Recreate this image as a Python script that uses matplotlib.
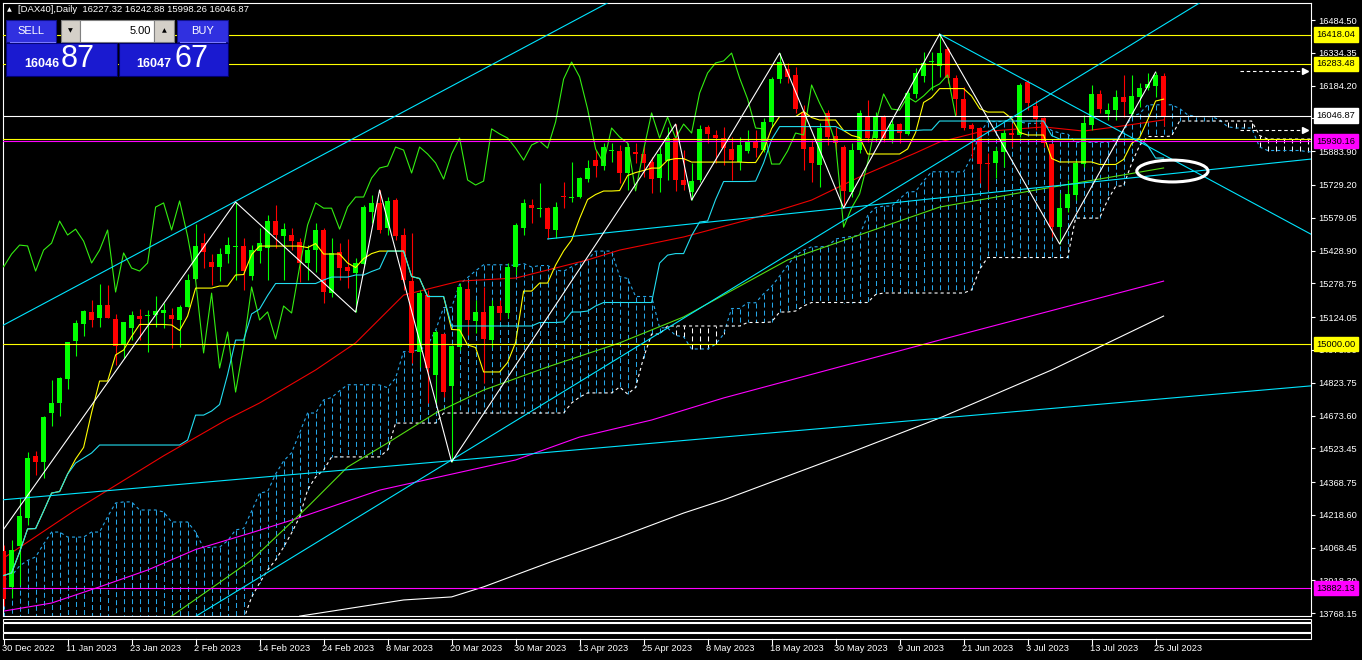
import numpy as np
import pandas as pd
import matplotlib
matplotlib.use("Agg")
import matplotlib.pyplot as plt
from matplotlib.patches import Rectangle, Ellipse
from matplotlib.lines import Line2D
from matplotlib.transforms import blended_transform_factory as blend

plt.rcParams["font.family"] = ["Liberation Sans", "DejaVu Sans"]
plt.rcParams["lines.scale_dashes"] = False

# daily bars of [DAX40], 30 Dec 2022 .. 26 Jul 2023
opens = [14053, 13888, 14076, 14204, 14488, 14461, 14685, 14731, 14841, 15015,
         15093, 15148, 15120, 15180, 15115, 15001, 15074, 15129, 15129, 15134,
         15143, 15134, 15111, 15170, 15299, 15463, 15377, 15354, 15413, 15445,
         15450, 15312, 15427, 15441, 15564, 15495, 15500, 15468, 15372, 15431,
         15523, 15234, 15422, 15354, 15326, 15367, 15605, 15647, 15532, 15660,
         15500, 15289, 14964, 15225, 14859, 15047, 14809, 14987, 15253, 15106,
         15148, 15019, 15175, 15143, 15354, 15532, 15637, 15619, 15623, 15523,
         15679, 15670, 15674, 15756, 15843, 15816, 15887, 15885, 15784, 15880,
         15871, 15834, 15761, 15839, 15944, 15752, 15697, 15752, 15995, 15958,
         15944, 15894, 15834, 15885, 15930, 15889, 16018, 16214, 16260, 16233,
         16063, 15903, 15821, 16059, 15954, 15903, 15697, 15889, 16045, 15944,
         16045, 15935, 16008, 15963, 16146, 16228, 16292, 16274, 16352, 16219,
         16123, 16004, 15990, 15830, 15830, 15880, 15967, 15958, 16201, 16091,
         16036, 15917, 15536, 15624, 15683, 15825, 16004, 16146, 16054, 16072,
         16132, 16054, 16132, 16173, 16182, 16227.32]
highs = [14081, 14104, 14296, 14508, 14511, 14671, 14836, 14850, 15010, 15111,
         15157, 15203, 15276, 15271, 15138, 15102, 15152, 15161, 15157, 15221,
         15189, 15166, 15180, 15321, 15550, 15509, 15413, 15441, 15491, 15651,
         15486, 15454, 15532, 15592, 15637, 15555, 15532, 15486, 15454, 15555,
         15532, 15486, 15463, 15482, 15395, 15637, 15683, 15706, 15674, 15670,
         15532, 15509, 15248, 15248, 15065, 15051, 14996, 15280, 15285, 15203,
         15262, 15203, 15203, 15372, 15555, 15665, 15665, 15738, 15628, 15651,
         15743, 15834, 15766, 15843, 15889, 15921, 15921, 15912, 15921, 15921,
         15912, 15857, 15903, 15994, 16008, 15889, 15830, 16004, 16004, 15981,
         15995, 15949, 15949, 15981, 15981, 16036, 16224, 16333, 16288, 16269,
         16095, 15935, 16013, 16072, 15995, 15912, 15921, 16072, 16118, 16063,
         16050, 16027, 16013, 16164, 16265, 16338, 16338, 16420, 16361, 16233,
         16178, 16013, 15995, 15876, 15903, 15981, 16013, 16196, 16210, 16118,
         16040, 15921, 15692, 15752, 15843, 16050, 16187, 16164, 16104, 16164,
         16233, 16233, 16196, 16242, 16246, 16242.88]
lows = [13801, 13838, 13898, 14172, 14401, 14387, 14626, 14671, 14795, 14946,
        15038, 15079, 15079, 15120, 14905, 14937, 15019, 15019, 14964, 15079,
        15074, 14983, 14987, 15170, 15299, 15349, 15271, 15289, 15372, 15294,
        15248, 15294, 15372, 15294, 15441, 15294, 15431, 15285, 15294, 15331,
        15189, 15216, 15294, 15257, 15147, 15363, 15555, 15509, 15500, 15477,
        15248, 14914, 14896, 14731, 14731, 14758, 14461, 14973, 15042, 15051,
        14822, 14987, 15111, 15120, 15317, 15500, 15555, 15582, 15482, 15486,
        15624, 15651, 15670, 15743, 15766, 15798, 15834, 15738, 15706, 15830,
        15766, 15692, 15697, 15752, 15702, 15706, 15660, 15743, 15921, 15830,
        15821, 15752, 15798, 15876, 15857, 15880, 15995, 16196, 16196, 16059,
        15798, 15743, 15720, 15912, 15889, 15624, 15674, 15876, 15926, 15926,
        15926, 15921, 15921, 15958, 16127, 16201, 16164, 16224, 16196, 16050,
        15981, 15853, 15738, 15706, 15761, 15811, 15903, 15949, 16072, 15981,
        15903, 15491, 15459, 15605, 15660, 15811, 15981, 16059, 16027, 16027,
        16040, 16050, 16086, 16164, 16132, 15998.26]
closes = [13833, 14058, 14213, 14480, 14461, 14667, 14731, 14845, 15010, 15097,
          15152, 15111, 15180, 15120, 14992, 15102, 15134, 15115, 15134, 15152,
          15157, 15115, 15170, 15294, 15450, 15422, 15354, 15413, 15454, 15450,
          15335, 15431, 15463, 15564, 15500, 15527, 15472, 15372, 15431, 15523,
          15239, 15418, 15349, 15335, 15372, 15628, 15647, 15523, 15656, 15495,
          15294, 14960, 15234, 14891, 15056, 14781, 14992, 15262, 15111, 15148,
          15024, 15175, 15143, 15354, 15546, 15647, 15623, 15623, 15527, 15628,
          15674, 15674, 15761, 15807, 15816, 15903, 15889, 15784, 15903, 15871,
          15830, 15756, 15871, 15944, 15752, 15729, 15747, 15986, 15963, 15944,
          15898, 15843, 15912, 15930, 15898, 16018, 16214, 16292, 16224, 16077,
          15894, 15830, 15990, 15949, 15921, 15702, 15889, 16059, 15944, 16040,
          15944, 16008, 15967, 16150, 16242, 16288, 16297, 16333, 16219, 16123,
          15990, 15986, 15825, 15825, 15885, 15967, 15958, 16187, 16104, 16031,
          15921, 15536, 15624, 15688, 15830, 16013, 16146, 16077, 16072, 16132,
          16109, 16137, 16173, 16192, 16233, 16046.87]

date_labels = ["30 Dec 2022", "11 Jan 2023", "23 Jan 2023", "2 Feb 2023", "14 Feb 2023",
               "24 Feb 2023", "8 Mar 2023", "20 Mar 2023", "30 Mar 2023", "13 Apr 2023",
               "25 Apr 2023", "8 May 2023", "18 May 2023", "30 May 2023", "9 Jun 2023",
               "21 Jun 2023", "3 Jul 2023", "13 Jul 2023", "25 Jul 2023"]
price_ticks = [16484.50, 16334.35, 16184.20, 16034.05, 15883.90, 15729.20, 15579.05,
               15428.90, 15278.75, 15124.05, 14973.90, 14823.75, 14673.60, 14523.45,
               14368.75, 14218.60, 14068.45, 13918.30, 13768.15]

# moving averages (bar index, value)
red_ma_bars = [0, 9, 20, 28, 32, 39, 44, 50, 57, 64, 73, 77, 85, 93, 101, 107, 114, 117, 122, 130, 135, 139, 145]
red_ma_vals = [14021, 14241, 14489, 14657, 14731, 14882, 15006, 15225, 15289, 15303, 15386, 15431,
               15491, 15569, 15660, 15766, 15876, 15926, 15972, 15995, 15976, 15995, 16027]
green_ma_bars = [21, 31, 38, 43, 48, 54, 60, 68, 77, 85, 98, 117, 129, 145]
green_ma_vals = [13755, 14012, 14255, 14438, 14548, 14685, 14790, 14896, 15006, 15125, 15386, 15628, 15706, 15807]
magenta_ma_bars = [0, 6, 12, 18, 24, 31, 37, 47, 64, 72, 81, 90, 117, 145]
magenta_ma_vals = [13778, 13815, 13889, 13966, 14060, 14137, 14206, 14332, 14470, 14575, 14653, 14754, 15019, 15289]
white_ma_bars = [37, 50, 56, 60, 68, 77, 85, 90, 106, 117, 131, 145]
white_ma_vals = [13755, 13829, 13843, 13889, 13998, 14117, 14227, 14287, 14506, 14662, 14882, 15129]

# Ichimoku cloud where it needs history from before the first bar
span_a_start = [13920, 13940, 13985, 14010, 14026, 14085, 14140, 14140, 14117, 14117,
                14117, 14140, 14140, 14210, 14273, 14278, 14278, 14241, 14241, 14241,
                14232, 14186, 14186, 14186, 14140, 14067, 14071, 14071, 14100, 14150]
span_b_start = ([np.nan] * 30 +
                [13740, 13842, 13907, 13966, 14012, 14071, 14136, 14209, 14333, 14392, 14424] +
                [14484] * 7 + [14516] + [14639] * 6 + [14685] * 16 +
                [14731, 14758] + [14777] * 4 + [14804])

zigzag_bars = [-7, 29, 44, 47, 56, 84, 86, 97, 105, 117, 132, 144]
zigzag_prices = [13791, 15651, 15147, 15706, 14461, 16008, 15660, 16333, 15624, 16420, 15459, 16246]

yellow_levels = [16418.04, 16283.48, 15940.0, 15000.00]
magenta_levels = [15930.16, 13882.13]
bid = 16046.87

GREEN = "#00ff00"
RED = "#ff0000"
CYAN = "#00e5ff"
CLOUD = "#26a6e8"

W, H = 1362, 660
fig = plt.figure(figsize=(W / 100, H / 100), dpi=100, facecolor="black")


def fx(x):
    return x / W


def fy(y):
    return 1 - y / H


X0, X1, Y0, Y1 = 2.7, 1311, 3, 616
ax = fig.add_axes([fx(X0), fy(Y1), fx(X1 - X0), (Y1 - Y0) / H])
ax.set_facecolor("black")
ax.set_xlim((X0 - 3.6) / 8, (X1 - 3.6) / 8)
ybot, ytop = 13755.6, 16562.4
ax.set_ylim(ybot, ytop)

df = pd.DataFrame({"o": opens, "h": highs, "l": lows, "c": closes})
n = len(df)
idx = np.arange(n)

# Ichimoku
tenkan = (df.h.rolling(9, min_periods=1).max() + df.l.rolling(9, min_periods=1).min()) / 2
kijun = (df.h.rolling(26, min_periods=1).max() + df.l.rolling(26, min_periods=1).min()) / 2
span_b_calc = (df.h.rolling(52).max() + df.l.rolling(52).min()) / 2
m = n + 26
span_a = np.full(m, np.nan)
span_b = np.full(m, np.nan)
span_a[26:] = ((tenkan + kijun) / 2).values
span_a[:len(span_a_start)] = span_a_start
span_b[26:] = span_b_calc.values
span_b[:len(span_b_start)] = span_b_start
jj = np.arange(m)
b_fill = np.where(np.isnan(span_b), ybot - 80, span_b)
hatch_cols = np.where(span_a >= b_fill, CLOUD, "white")
ax.vlines(jj, span_a, b_fill, colors=list(hatch_cols), linestyles=(0, (3.6, 2.2)), lw=0.75, zorder=1)
ax.plot(jj, span_a, color=CLOUD, lw=0.8, ls=(0, (2.2, 2.2)), zorder=2)
ax.plot(jj, span_b, color="white", lw=0.8, ls=(0, (2.2, 2.2)), zorder=2)

# moving averages
ax.plot(white_ma_bars, white_ma_vals, color="white", lw=0.8, zorder=2)
ax.plot(magenta_ma_bars, magenta_ma_vals, color="#ff00ff", lw=0.8, zorder=2)
ax.plot(green_ma_bars, green_ma_vals, color="#55dd11", lw=0.8, zorder=2)
ax.plot(red_ma_bars, red_ma_vals, color="#ee0000", lw=0.8, zorder=2)

# candles
o, h, l, c = df.o.values, df.h.values, df.l.values, df.c.values
up = c >= o
cols = np.where(up, GREEN, RED)
ax.vlines(idx, l, h, colors=list(cols), lw=0.8, zorder=3)
body = np.maximum(np.abs(c - o), 4.6)
ax.bar(idx, body, bottom=np.minimum(o, c), width=0.62, color=list(cols), lw=0, zorder=3)

# Ichimoku lines
ax.plot(idx - 26, c, color="#33ee11", lw=0.8, zorder=4)
ax.plot(idx, tenkan, color="#ffff00", lw=0.8, zorder=4)
ax.plot(idx, kijun, color="#22ddf0", lw=0.8, zorder=4)

# objects
for v in yellow_levels:
    ax.axhline(v, color="#ffff00", lw=0.8, zorder=5)
for v in magenta_levels:
    ax.axhline(v, color="#ff00ff", lw=0.8, zorder=5)
ax.axhline(bid, color="white", lw=0.8, zorder=5)

ax.axline((0, 15088), (75, 16553), color=CYAN, lw=0.8, zorder=5)
ax.axline((56, 14470), (90, 15231), color=CYAN, lw=0.8, zorder=5)
ax.axline((0, 14288), (163, 14808), color=CYAN, lw=0.8, zorder=5)
ax.plot([68, 170], [15482, 15873], color=CYAN, lw=0.8, zorder=5)
ax.plot([117, 170], [16420, 15374], color=CYAN, lw=0.8, zorder=5)
ax.plot(zigzag_bars, zigzag_prices, color="white", lw=0.8, zorder=5)
ax.add_patch(Ellipse((146.1, 15793), 8.9, 100, fill=False, ec="white", lw=2.2, zorder=6))
for lvl in (16250, 15981):
    ax.plot([154.5, 162.6], [lvl, lvl], color="white", lw=0.8, ls=(0, (2.5, 2.0)), zorder=6)
    ax.plot([162.7], [lvl], marker=">", color="white", ms=4, zorder=6, clip_on=False)

# axes styling / price scale
for s in ax.spines.values():
    s.set_color("white")
    s.set_linewidth(0.8)
ax.yaxis.tick_right()
ax.set_yticks(price_ticks)
ax.set_yticklabels([f"{v:.2f}" for v in price_ticks])
ax.tick_params(axis="y", colors="white", labelcolor="white", length=3, width=0.8, pad=2, labelsize=6.7)
ax.tick_params(axis="x", bottom=False, labelbottom=False)

tr = blend(fig.transFigure, ax.transData)
boxes = [(16418.04, "#ffff00"), (16283.48, "#ffff00"), (bid, "white"),
         (15930.16, "#ff00ff"), (15000.00, "#ffff00"), (13882.13, "#ff00ff")]
for v, col in boxes:
    ax.text(fx(1316.5), v, f"{v:.2f}", transform=tr, color="black", fontsize=6.7, va="center", ha="left",
            bbox=dict(boxstyle="square,pad=0.28", fc=col, ec=col), zorder=10, clip_on=False)

# collapsed sub-windows below the chart
for ya, yb in [(618.7, 621.7), (623.3, 631.7), (633.3, 639.3)]:
    fig.add_artist(Rectangle((fx(X0), fy(yb)), fx(X1 - X0), (yb - ya) / H, transform=fig.transFigure,
                             fill=False, ec="white", lw=0.8))

# time scale
trx = blend(ax.transData, fig.transFigure)
for k, lab in enumerate(date_labels):
    b = 8 * k
    fig.add_artist(Line2D([b, b], [fy(639.3), fy(644)], transform=trx, color="white", lw=0.8))
    fig.text(b - 0.15, fy(648.5), lab, transform=trx, color="white", fontsize=6.7, va="center", ha="left")

# header and one-click trading panel
fig.text(fx(7), fy(10), "\u25b2", color="white", fontsize=4.5, family="DejaVu Sans", va="center")
fig.text(fx(18), fy(10), "[DAX40],Daily  16227.32 16242.88 15998.26 16046.87", color="white",
         fontsize=6.8, va="center")


def box(x0, y0, x1, y1, fc, ec=None):
    fig.add_artist(Rectangle((fx(x0), fy(y1)), fx(x1 - x0), (y1 - y0) / H, transform=fig.transFigure,
                             fc=fc, ec=ec or fc, lw=0.8, zorder=20))


box(6, 20, 56, 42, "#3030e0", "#10108a")
box(61, 20, 80, 42, "#d4d0c8", "#808080")
box(80, 20, 154, 42, "white", "#808080")
box(154, 20, 174, 42, "#d4d0c8", "#808080")
box(177, 20, 228, 42, "#3030e0", "#10108a")
box(6, 43, 117, 76, "#1a1ad0", "#000070")
box(119, 43, 228, 76, "#1a1ad0", "#000070")
fig.add_artist(Line2D([fx(10), fx(55)], [fy(41.5), fy(41.5)], transform=fig.transFigure, color="#7a7aff", lw=0.8, zorder=21))
fig.add_artist(Line2D([fx(180), fx(225)], [fy(41.5), fy(41.5)], transform=fig.transFigure, color="#7a7aff", lw=0.8, zorder=21))

kw = dict(color="white", va="center", zorder=22)
fig.text(fx(31), fy(30.5), "SELL", ha="center", fontsize=8, **kw)
fig.text(fx(202.5), fy(30.5), "BUY", ha="center", fontsize=8, **kw)
fig.text(fx(70.5), fy(31), "\u25bc", ha="center", fontsize=4.5, family="DejaVu Sans", color="black", va="center", zorder=22)
fig.text(fx(164), fy(31), "\u25b2", ha="center", fontsize=4.5, family="DejaVu Sans", color="black", va="center", zorder=22)
fig.text(fx(151), fy(31), "5.00", ha="right", fontsize=8, color="black", va="center", zorder=22)
fig.text(fx(24), fy(64), "16046", ha="left", fontsize=9, fontweight="bold", **kw)
fig.text(fx(61), fy(59), "87", ha="left", fontsize=22, **kw)
fig.text(fx(136), fy(64), "16047", ha="left", fontsize=9, fontweight="bold", **kw)
fig.text(fx(174), fy(59), "67", ha="left", fontsize=22, **kw)

fig.savefig("out.png", dpi=100, facecolor="black")
